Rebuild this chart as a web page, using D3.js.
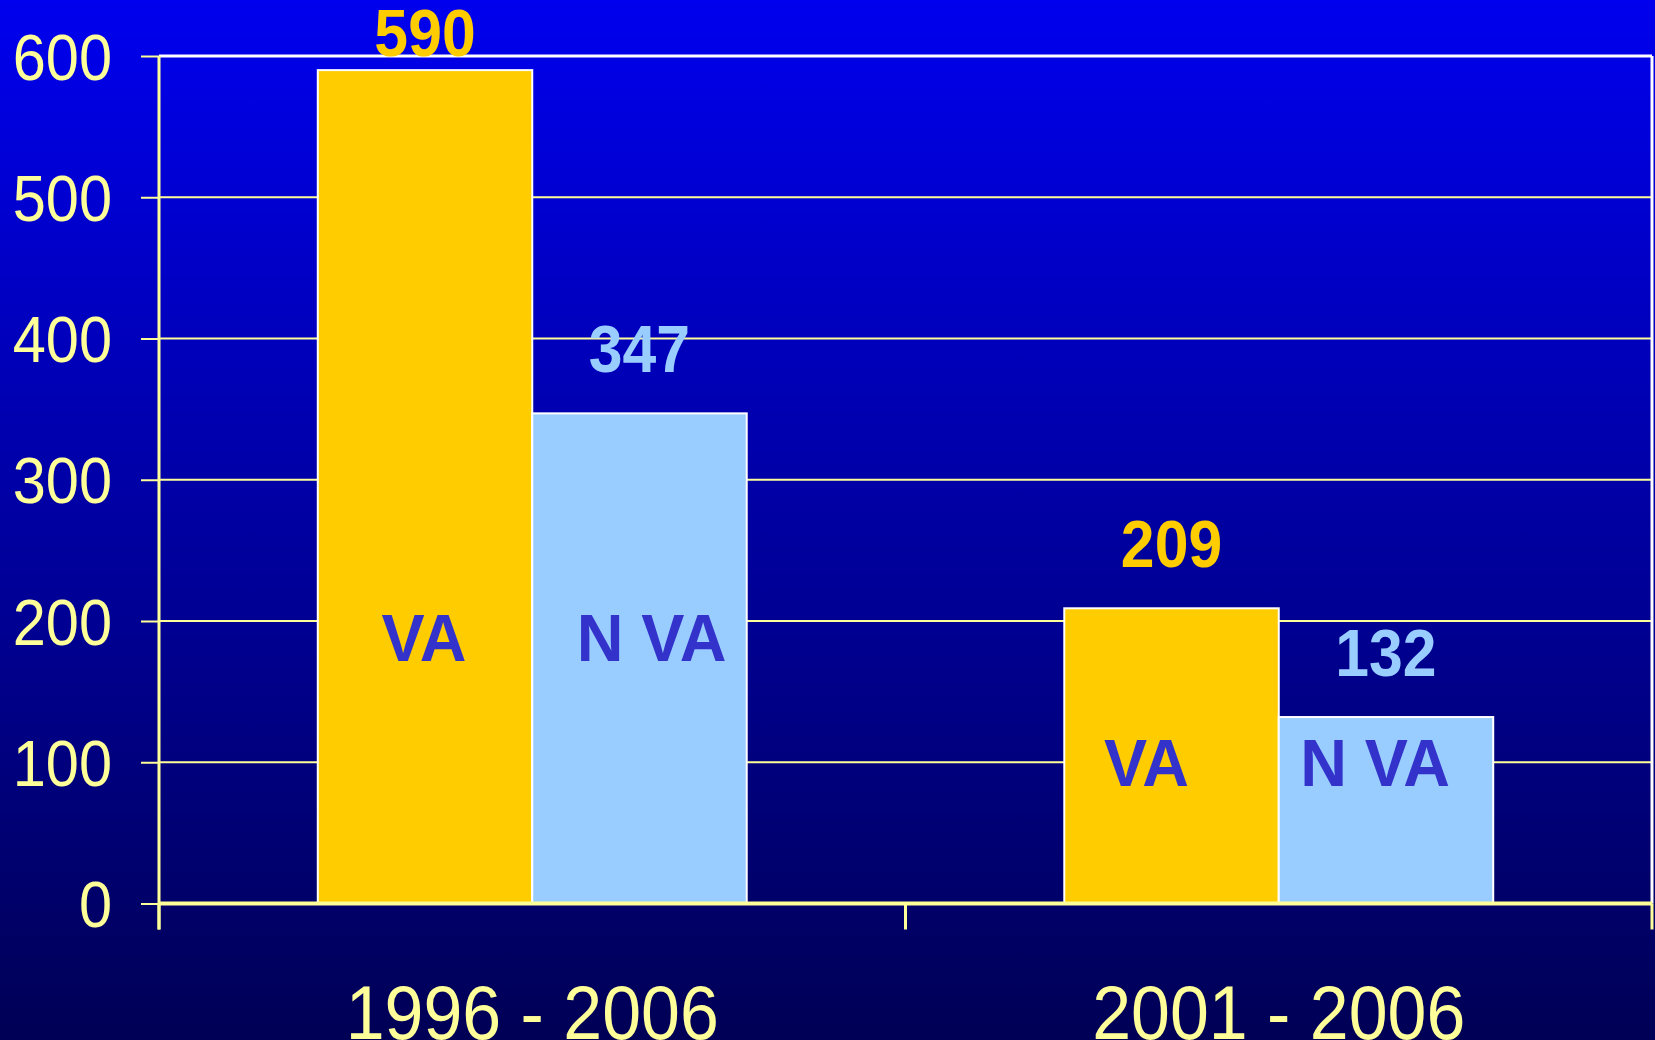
<!DOCTYPE html>
<html>
<head>
<meta charset="utf-8">
<script src="https://cdn.jsdelivr.net/npm/d3@7"></script>
<style>
  html, body { margin: 0; padding: 0; background: #000055; }
  svg { display: block; }
  text { font-family: "Liberation Sans", Arial, sans-serif; }
</style>
</head>
<body>
<script>
// data
var categories = ["1996 - 2006", "2001 - 2006"];
var series = ["VA", "N VA"];
var vaValues = [590, 209];
var nvaValues = [347, 132];
var yTicks = [0, 100, 200, 300, 400, 500, 600];
var insideLabelLevel = [172, 83];   // value at which the "VA" / "N VA" words sit

var w = 1655, h = 1040;
var plotLeft = 159, plotRight = 1652, plotTop = 56, plotBottom = 903.5;
var squish = 0.92;   // text in the source is a bit narrow
var yellow = "#FFCC00", blue = "#99CCFF", axisCol = "#FFFF99";
var nudge = [[-1, 12], [-25, -11]];

var svg = d3.select("body").append("svg")
    .attr("width", w)
    .attr("height", h);

// background
var grad = svg.append("defs").append("linearGradient")
    .attr("id", "bg").attr("x1", 0).attr("y1", 0).attr("x2", 0).attr("y2", 1);
grad.append("stop").attr("offset", "0%").attr("stop-color", "#0000EE");
grad.append("stop").attr("offset", "100%").attr("stop-color", "#000055");
svg.append("rect").attr("width", w).attr("height", h).attr("fill", "url(#bg)");

var y = d3.scaleLinear().domain([0, 600]).range([plotBottom, plotTop]);
var x0 = d3.scaleBand().domain(categories).range([plotLeft, plotRight]);
var bw = x0.bandwidth();
var x1 = d3.scaleBand().domain(series).range([bw * 0.2127, bw * 0.7873]);

// gridlines
svg.selectAll("line.grid").data(yTicks.filter(function(t){ return t > 0; }))
  .enter().append("line")
    .attr("class", "grid")
    .attr("x1", plotLeft).attr("x2", plotRight)
    .attr("y1", function(d){ return y(d); })
    .attr("y2", function(d){ return y(d); })
    .attr("stroke", function(d){ return d == 600 ? "#FFFFFF" : axisCol; })
    .attr("stroke-width", function(d){ return d == 600 ? 3 : 2; });

// right frame
svg.append("line")
    .attr("x1", plotRight).attr("x2", plotRight)
    .attr("y1", y(600)).attr("y2", y(0))
    .attr("stroke", "#FFFFFF").attr("stroke-width", 3);

// y axis
var yAxis = svg.append("g")
    .attr("transform", "translate(" + plotLeft + ",0)")
    .call(d3.axisLeft(y).tickValues(yTicks).tickSize(18).tickSizeOuter(0));
yAxis.select(".domain").remove();
yAxis.selectAll(".tick line").attr("stroke", axisCol).attr("stroke-width", 2);
yAxis.selectAll(".tick text")
    .attr("x", 0)
    .attr("dy", "0.36em")
    .attr("transform", "translate(-47,0) scale(0.93,1)")
    .attr("fill", axisCol)
    .style("font-size", "64px");
svg.append("line")
    .attr("x1", plotLeft).attr("x2", plotLeft)
    .attr("y1", y(600)).attr("y2", y(0) + 26)
    .attr("stroke", axisCol).attr("stroke-width", 3);

// bars
var groups = svg.selectAll("g.cat").data(categories).enter().append("g")
    .attr("class", "cat")
    .attr("transform", function(d){ return "translate(" + x0(d) + ",0)"; });

var rows = categories.map(function(c, i){
    return [
        {cat: c, s: "VA", v: vaValues[i], fill: yellow, ci: i, si: 0},
        {cat: c, s: "N VA", v: nvaValues[i], fill: blue, ci: i, si: 1}
    ];
});

groups.selectAll("rect").data(function(d, i){ return rows[i]; })
  .enter().append("rect")
    .attr("x", function(d){ return x1(d.s); })
    .attr("y", function(d){ return y(d.v); })
    .attr("width", x1.bandwidth())
    .attr("height", function(d){ return y(0) - y(d.v); })
    .attr("fill", function(d){ return d.fill; })
    .attr("stroke", "#FFFFFF")
    .attr("stroke-width", 2);

// value labels above bars
groups.selectAll("text.val").data(function(d, i){ return rows[i]; })
  .enter().append("text")
    .attr("class", "val")
    .attr("text-anchor", "middle")
    .attr("transform", function(d){
        var ty = Math.max(y(d.v) - 41, y(600));
        return "translate(" + (x1(d.s) + x1.bandwidth() / 2) + "," + ty + ") scale(" + squish + ",1)";
    })
    .attr("fill", function(d){ return d.fill; })
    .style("font-size", "66px")
    .style("font-weight", "bold")
    .text(function(d){ return d.v; });

// names inside bars
groups.selectAll("text.name").data(function(d, i){ return rows[i]; })
  .enter().append("text")
    .attr("class", "name")
    .attr("text-anchor", "middle")
    .attr("transform", function(d){
        var tx = x1(d.s) + x1.bandwidth() / 2 + nudge[d.ci][d.si];
        return "translate(" + tx + "," + y(insideLabelLevel[d.ci]) + ") scale(0.98,1)";
    })
    .attr("fill", "#3333CC")
    .style("font-size", "66px")
    .style("font-weight", "bold")
    .text(function(d){ return d.s; });

// x axis
svg.append("line")
    .attr("x1", plotLeft).attr("x2", plotRight)
    .attr("y1", y(0)).attr("y2", y(0))
    .attr("stroke", axisCol).attr("stroke-width", 4);
var xTickPos = categories.map(function(c){ return x0(c); }).concat([x0(categories[categories.length - 1]) + bw]);
svg.selectAll("line.xtick").data(xTickPos).enter().append("line")
    .attr("class", "xtick")
    .attr("x1", function(d){ return d; }).attr("x2", function(d){ return d; })
    .attr("y1", y(0)).attr("y2", y(0) + 26)
    .attr("stroke", axisCol).attr("stroke-width", 3);

svg.selectAll("text.catlabel").data(categories).enter().append("text")
    .attr("class", "catlabel")
    .attr("text-anchor", "middle")
    .attr("transform", function(d){
        return "translate(" + (x0(d) + bw / 2) + ",1039) scale(" + squish + ",1)";
    })
    .attr("fill", axisCol)
    .style("font-size", "76px")
    .text(function(d){ return d; });
</script>
</body>
</html>
